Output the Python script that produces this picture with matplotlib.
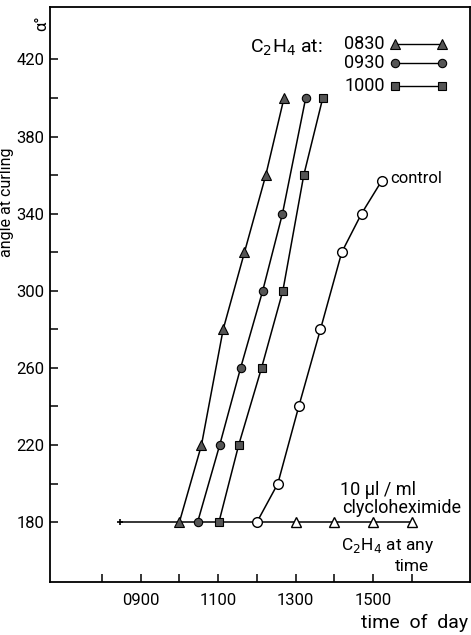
import numpy as np
import matplotlib.pyplot as plt

plt.rcParams['font.family'] = ['Roboto', 'DejaVu Sans']

# horas decimais (0830 -> 8.5)
t_0830 = [10.0, 10.57, 11.13, 11.68, 12.23, 12.7]
a_0830 = [180, 220, 280, 320, 360, 400]

t_0930 = [10.47, 11.04, 11.58, 12.15, 12.66, 13.26]
a_0930 = [180, 220, 260, 300, 340, 400]

t_1000 = [11.02, 11.53, 12.12, 12.67, 13.21, 13.7]
a_1000 = [180, 220, 260, 300, 360, 400]

t_control = [12.0, 12.54, 13.08, 13.64, 14.19, 14.7, 15.22]
a_control = [180, 200, 240, 280, 320, 340, 357]

t_chx = [13.0, 14.0, 15.0, 16.0]
a_chx = [180, 180, 180, 180]
t_chx_start = 8.46

xticks_major = [9, 11, 13, 15]
xtick_labels = ['0900', '1100', '1300', '1500']
xticks_minor = [8, 10, 12, 14, 16]
yticks_major = [180, 220, 260, 300, 340, 380, 420]
yticks_minor = [200, 240, 280, 320, 360, 400]

fig = plt.figure(figsize=(4.71, 6.35), dpi=100)
ax = fig.add_axes([0.106, 0.0835, 0.892, 0.905])

fill = '#555555'
lw = 1.1

# linha da cicloheximida
ax.plot([t_chx_start] + t_chx, [180] + a_chx, color='black', lw=lw)
ax.plot([t_chx_start], [180], marker='+', color='black', ms=5, mew=1.2)
ax.plot(t_chx, a_chx, ls='none', marker='^', ms=7, mfc='white', mec='black', mew=1)

ax.plot(t_0830, a_0830, color='black', lw=lw, marker='^', ms=7, mfc=fill, mec='black', mew=0.8)
ax.plot(t_0930, a_0930, color='black', lw=lw, marker='o', ms=6, mfc=fill, mec='black', mew=0.8)
ax.plot(t_1000, a_1000, color='black', lw=lw, marker='s', ms=5.5, mfc=fill, mec='black', mew=0.8)
ax.plot(t_control, a_control, color='black', lw=lw, marker='o', ms=7, mfc='white', mec='black', mew=1)

ax.set_xlim(6.66, 17.5)
ax.set_ylim(149, 447)

ax.set_xticks(xticks_major)
ax.set_xticklabels(xtick_labels)
ax.set_xticks(xticks_minor, minor=True)
ax.set_yticks(yticks_major)
ax.set_yticks(yticks_minor, minor=True)
ax.tick_params(which='both', direction='in', length=6, width=1.1, labelsize=12, pad=4)
ax.tick_params(axis='x', pad=8)

for s in ax.spines.values():
    s.set_linewidth(1.3)

ax.set_ylabel('angle at curling', fontsize=11.5, labelpad=0)
ax.yaxis.set_label_coords(-0.085, 0.66)
ax.text(-0.02, 0.972, 'α°', transform=ax.transAxes, fontsize=12, rotation=90,
        ha='center', va='center')
ax.text(0.995, -0.072, 'time  of  day', transform=ax.transAxes, fontsize=14,
        ha='right', va='center')

# legenda
ax.text(11.82, 426, 'C$_2$H$_4$ at:', fontsize=14, ha='left', va='center')
leg_rows = [('0830', '^', 7, 428), ('0930', 'o', 6, 418), ('1000', 's', 5.5, 406)]
for lab, mk, ms, y in leg_rows:
    ax.text(15.3, y, lab, fontsize=13, ha='right', va='center')
    ax.plot([15.56, 16.77], [y, y], color='black', lw=1, marker=mk, ms=ms,
            mfc=fill, mec='black', mew=0.8)

ax.text(15.45, 358, 'control', fontsize=12, ha='left', va='center')
ax.text(14.14, 196.5, '10 µl / ml', fontsize=13, ha='left', va='center')
ax.text(14.2, 187.5, 'clycloheximide', fontsize=13, ha='left', va='center')
ax.text(14.17, 168, 'C$_2$H$_4$ at any', fontsize=12.5, ha='left', va='center')
ax.text(15.56, 157, 'time', fontsize=12.5, ha='left', va='center')

fig.savefig('out.png', dpi=100)
